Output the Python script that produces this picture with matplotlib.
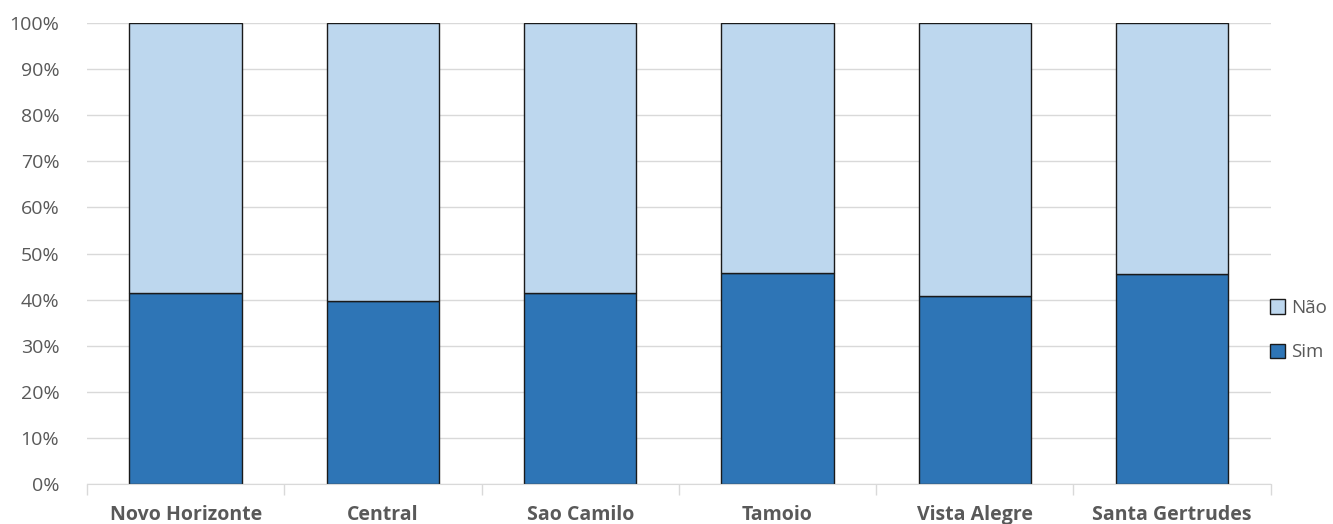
import matplotlib.pyplot as plt
import numpy as np
from matplotlib.patches import Patch
from matplotlib.ticker import PercentFormatter, FixedLocator

bairros = ['Novo Horizonte', 'Central', 'Sao Camilo', 'Tamoio', 'Vista Alegre', 'Santa Gertrudes']
sim = [41.4, 39.7, 41.4, 45.8, 40.8, 45.6]
nao = [100 - v for v in sim]

COR_SIM = '#2E75B6'
COR_NAO = '#BDD7EE'
CINZA = '#595959'

plt.rcParams['font.family'] = ['Open Sans', 'DejaVu Sans']

fig = plt.figure(figsize=(13.33, 5.24), dpi=100)
ax = fig.add_axes([0.0653, 0.0763, 0.888, 0.8797])

x = np.arange(len(bairros))
ax.bar(x, sim, width=0.57, color=COR_SIM, edgecolor='#1a1a1a', linewidth=1, zorder=3)
ax.bar(x, nao, bottom=sim, width=0.57, color=COR_NAO, edgecolor='#1a1a1a', linewidth=1, zorder=3)

ax.set_xlim(-0.5, len(bairros) - 0.5)
ax.set_ylim(0, 100)
ax.set_yticks(np.arange(0, 101, 10))
ax.yaxis.set_major_formatter(PercentFormatter(decimals=0))
ax.grid(axis='y', color='#d9d9d9', linewidth=1, zorder=0)

ax.set_xticks(x)
ax.set_xticklabels(bairros, fontweight='bold', color=CINZA, fontsize=14)
ax.xaxis.set_minor_locator(FixedLocator(np.arange(-0.5, len(bairros), 1)))
ax.tick_params(axis='x', which='major', length=0, pad=15)
ax.tick_params(axis='x', which='minor', length=8, color='#d9d9d9', width=1)
ax.tick_params(axis='y', length=0, labelcolor=CINZA, labelsize=14, pad=20)

for s in ['top', 'right', 'left']:
    ax.spines[s].set_visible(False)
ax.spines['bottom'].set_color('#d9d9d9')
ax.spines['bottom'].set_zorder(4)

handles = [Patch(facecolor=COR_NAO, edgecolor='#1a1a1a', label='Não'),
           Patch(facecolor=COR_SIM, edgecolor='#1a1a1a', label='Sim')]
fig.legend(handles=handles, loc='center left', bbox_to_anchor=(0.953, 0.37),
           frameon=False, borderpad=0, borderaxespad=0,
           handlelength=0.8, handleheight=0.8, handletextpad=0.3,
           labelspacing=1.4, prop={'size': 13.5}, labelcolor=CINZA)

fig.savefig('out.png', dpi=100)
